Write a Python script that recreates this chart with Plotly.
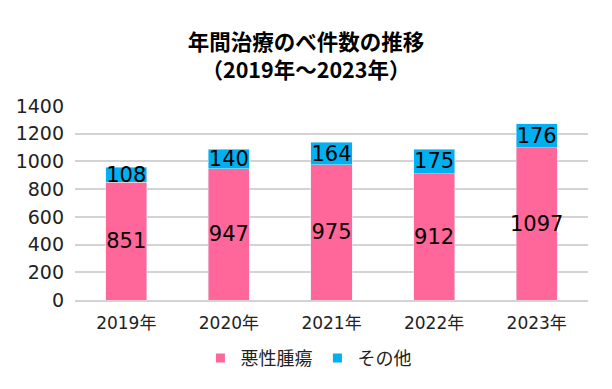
import plotly.graph_objects as go

years = ["2019年", "2020年", "2021年", "2022年", "2023年"]
malignant = [851, 947, 975, 912, 1097]
other = [108, 140, 164, 175, 176]
series_names = ["悪性腫瘍", "その他"]
colors = ["#FF6699", "#00B0F0"]

FONT = "DejaVu Sans, Noto Sans CJK JP"
TFONT = "Noto Sans CJK JP"

fig = go.Figure()
for vals, name, col in zip([malignant, other], series_names, colors):
    fig.add_bar(x=years, y=vals, name=name, marker_color=col, showlegend=False,
                text=[str(v) for v in vals], textposition="inside",
                insidetextanchor="middle", textangle=0, constraintext="none",
                textfont=dict(size=21, color="black", family=FONT))
for name, col in zip(series_names, colors):
    fig.add_scatter(x=[None], y=[None], mode="markers", name=name,
                    marker=dict(symbol="square", size=9, color=col))

fig.update_layout(
    width=612, height=389,
    barmode="stack", bargap=0.6,
    paper_bgcolor="white", plot_bgcolor="white",
    font=dict(family=FONT, color="#222"),
    title=dict(text="<b>年間治療のべ件数の推移<br>（2019年～2023年）</b>",
               x=0.5, xanchor="center", y=0.872, yanchor="top",
               font=dict(size=21.5, color="black", family=TFONT)),
    margin=dict(l=75, r=24, t=106, b=89),
    yaxis=dict(range=[0, 1400], dtick=200, gridcolor="#D3D3D3", gridwidth=1.5,
               tickfont=dict(size=19, color="#222"), zeroline=False, ticks="",
               ticklabelstandoff=10),
    xaxis=dict(tickfont=dict(size=17, color="#222"), showline=True,
               linecolor="#D3D3D3", linewidth=1.5, ticklabelstandoff=7),
    legend=dict(orientation="h", x=0.455, xanchor="center", y=-0.30, yanchor="middle",
                font=dict(size=18, color="#222", family=TFONT), traceorder="normal",
                itemwidth=30),
    showlegend=True,
)
fig.write_html("out.html", config={"displayModeBar": False},
               post_script="document.body.style.margin='0';document.body.style.overflow='hidden';")
